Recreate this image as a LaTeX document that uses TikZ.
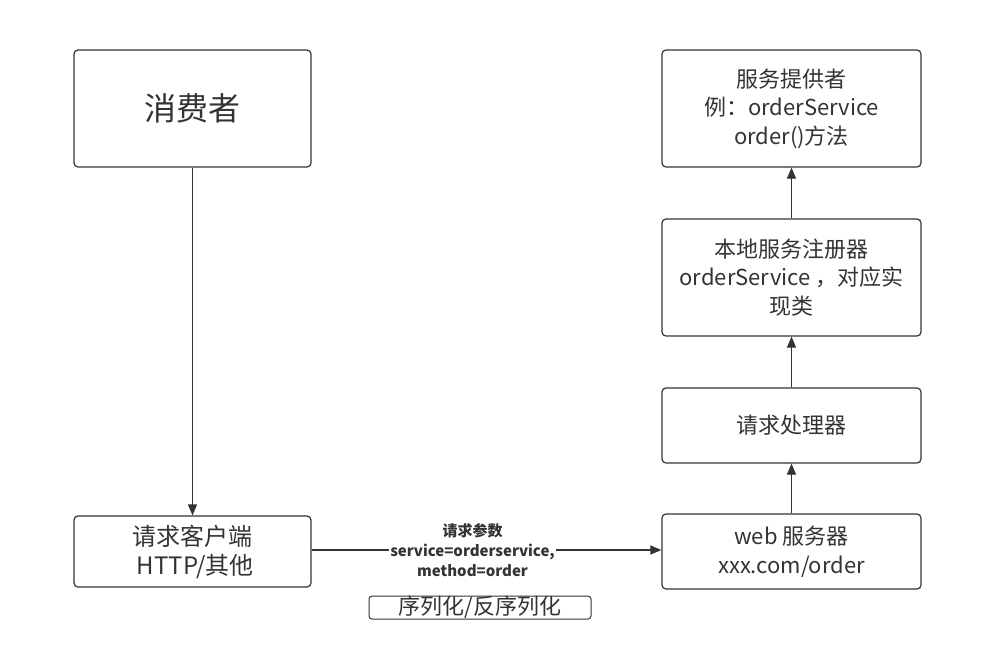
\documentclass[tikz,border=0pt]{standalone}
\usepackage{fontspec}
\setmainfont{Noto Sans CJK SC}
\usetikzlibrary{arrows.meta}
\definecolor{ink}{HTML}{333333}
\tikzset{
  box/.style={draw=ink, line width=1.2pt, rounded corners=4pt, align=center, text=ink, font=\fontsize{22}{28.5}\selectfont, inner sep=0pt},
  conn/.style={draw=ink, line width=1.2pt, -{Triangle[length=11pt,width=9pt]}},
  lbl/.style={fill=white, text=ink, align=center, font=\fontsize{15}{20}\selectfont\bfseries, inner sep=1pt}
}
\begin{document}
\begin{tikzpicture}[x=1pt,y=-1pt]
\useasboundingbox (0,0) rectangle (994,654);
\node[box, minimum width=237pt, minimum height=117pt, font=\fontsize{32}{38}\selectfont] (cons) at (192.5,108.5) {消费者};
\node[box, minimum width=259pt, minimum height=117pt] (prov) at (791.5,108.5) {服务提供者\\例：orderService\\order()方法};
\node[box, minimum width=259pt, minimum height=117pt] (reg) at (791.5,277.5) {本地服务注册器\\orderService ，对应实\\现类};
\node[box, minimum width=259pt, minimum height=75pt] (hand) at (791.5,425.5) {请求处理器};
\node[box, minimum width=259pt, minimum height=75pt] (web) at (791.5,551.5) {web 服务器\\xxx.com/order};
\node[box, minimum width=237pt, minimum height=71pt, font=\fontsize{24}{29}\selectfont] (cli) at (192.5,551.5) {请求客户端\\~HTTP/其他};
\node[box, minimum width=222pt, minimum height=23pt, rounded corners=3pt, line width=1pt, font=\fontsize{22}{22}\selectfont] (ser) at (480,607.5) {序列化/反序列化};
\draw[conn] (cons.south) -- (cli.north);
\draw[conn] (cli.east |- 0,550) -- (web.west |- 0,550) node[lbl, pos=0.46] {请求参数\\service=orderservice,\\method=order};
\draw[conn] (web.north) -- (hand.south);
\draw[conn] (hand.north) -- (reg.south);
\draw[conn] (reg.north) -- (prov.south);
\end{tikzpicture}
\end{document}
